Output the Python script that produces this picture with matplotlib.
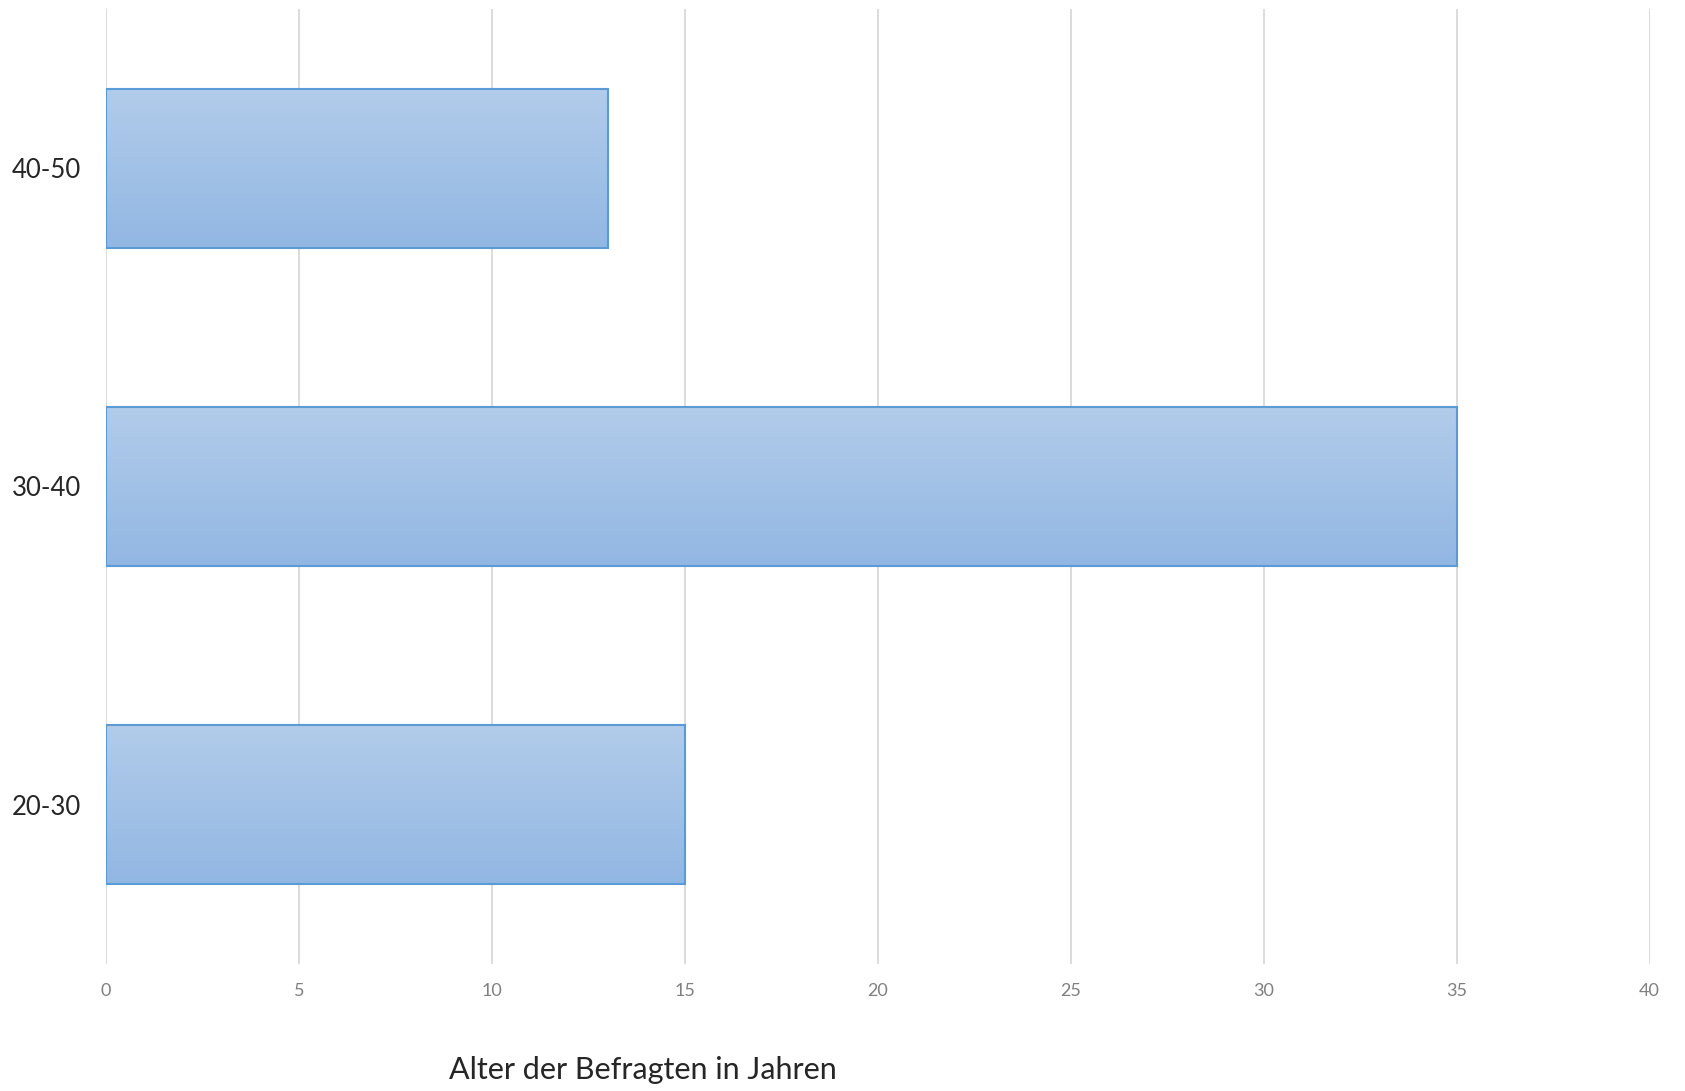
import matplotlib.pyplot as plt
import numpy as np
from matplotlib.colors import LinearSegmentedColormap

plt.rcParams["font.family"] = ["Lato", "DejaVu Sans"]

# Altersgruppen und Anzahl der Befragten
categories = ["20-30", "30-40", "40-50"]
values = [15, 35, 13]
x_ticks = [0, 5, 10, 15, 20, 25, 30, 35, 40]

fig = plt.figure(figsize=(16.85, 10.91), dpi=100)
ax = fig.add_axes([0.0629, 0.1164, 0.9161, 0.8754])

bars = ax.barh(categories, values, height=0.5, color="none",
               edgecolor="#5B9BD5", linewidth=1.5, zorder=3)

# Farbverlauf in den Balken
cmap = LinearSegmentedColormap.from_list("grad", ["#92B7E3", "#B2CCEA"])
grad = np.linspace(0, 1, 256).reshape(-1, 1)
for bar in bars:
    x0, y0 = bar.get_x(), bar.get_y()
    w, h = bar.get_width(), bar.get_height()
    im = ax.imshow(grad, cmap=cmap, aspect="auto", origin="lower",
                   extent=[x0, x0 + w, y0, y0 + h], zorder=2)
    im.set_clip_path(bar)

ax.set_xlim(0, 40)
ax.set_ylim(-0.5, 2.5)
ax.set_xticks(x_ticks)
ax.xaxis.grid(True, color="#D9D9D9", linewidth=1.3, zorder=0)
ax.set_axisbelow(True)
for s in ax.spines.values():
    s.set_visible(False)
ax.tick_params(axis="x", length=0, pad=14, labelsize=13, labelcolor="#808080")
ax.tick_params(axis="y", length=0, pad=18, labelsize=18.5, labelcolor="#262626")

fig.text(0.3816, 0.019, "Alter der Befragten in Jahren", ha="center",
         va="center", fontsize=22, color="#262626")

fig.savefig("out.png", dpi=100)
